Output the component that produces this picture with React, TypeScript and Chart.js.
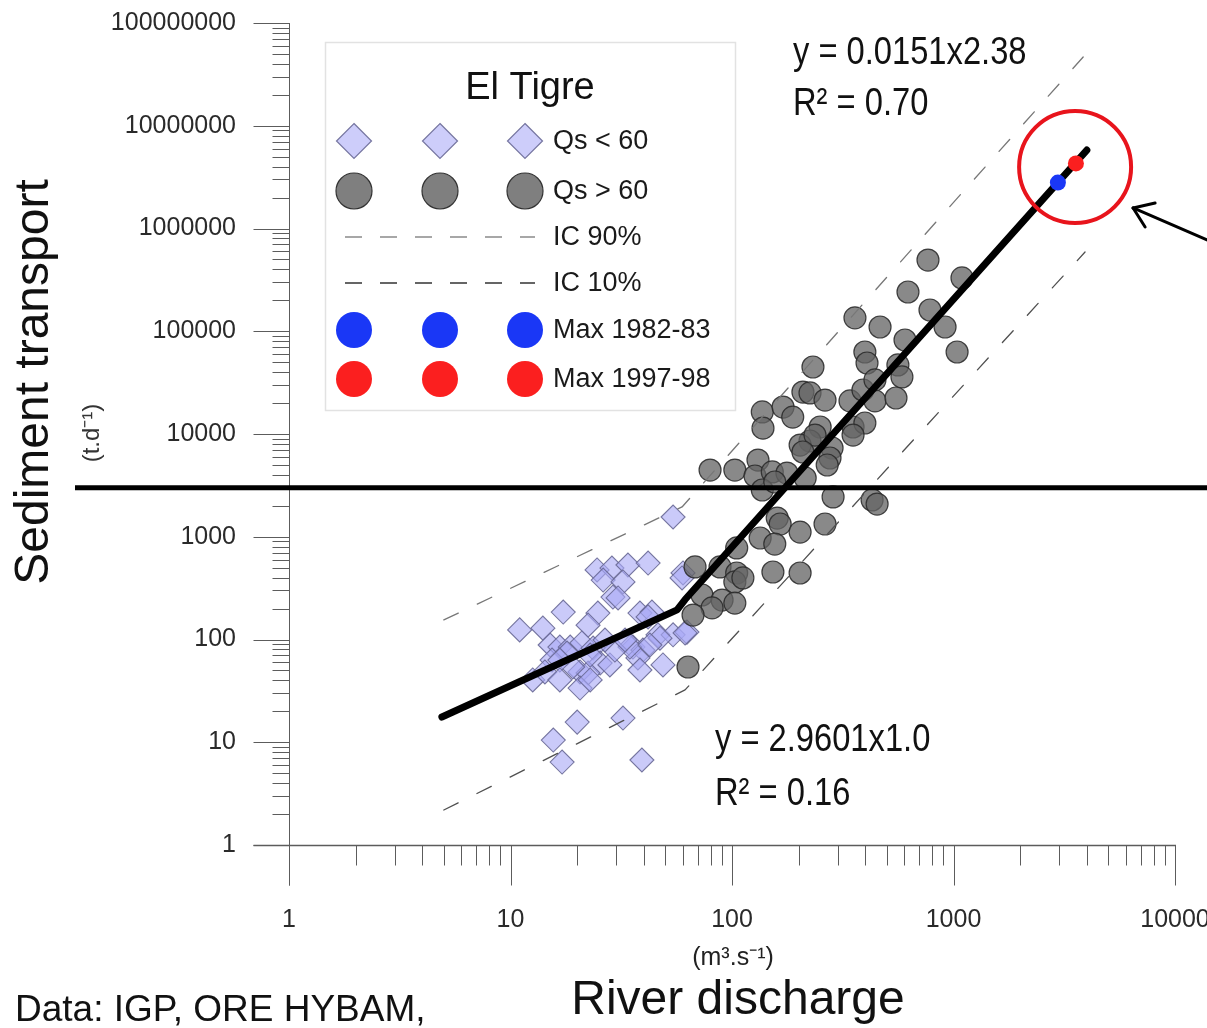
import React, { useEffect, useRef } from 'react';
import { Chart, registerables } from 'chart.js';

Chart.register(...registerables);

const FONT = '"Liberation Sans", Arial, Helvetica, sans-serif';

// ---- axes ----
const xTickValues = [1, 10, 100, 1000, 10000];
const xTickLabels = ['1', '10', '100', '1000', '10000'];
const yTickValues = [1, 10, 100, 1000, 10000, 100000, 1000000, 10000000, 100000000];
const yTickLabels = ['1', '10', '100', '1000', '10000', '100000', '1000000', '10000000', '100000000'];
const minorMultipliers = [2, 3, 4, 5, 6, 7, 8, 9];

// ---- Qs < 60 (diamonds): discharge (m3/s), sediment (t/d) ----
const qsLowDischarge = [
  54.2, 24.6, 28.7, 33.9, 41.8, 26.2, 32.2, 29.0, 30.6, 60.1, 59.5, 11.0, 14.0, 17.3, 24.8,
  22.4, 38.4, 43.5, 41.8, 46.3, 54.2, 62.6, 15.1, 16.7, 18.6, 21.0, 23.6, 35.7, 39.6, 25.4,
  28.1, 37.6, 48.8, 20.6, 22.4, 12.6, 20.6, 20.0, 15.6, 17.1, 32.2, 39.2, 18.0, 19.1, 34.6,
  38.4, 47.3, 61.4, 15.4, 14.3, 16.7, 22.9, 29.6, 32.9, 26.7, 42.6, 22.9, 16.7,
];
const qsLowSediment = [
  1557, 475, 496, 531, 555, 379, 363, 259, 254, 444, 397, 124, 129, 185, 181,
  138, 181, 185, 166, 111, 111, 118, 88.4, 84.5, 84.5, 92.5, 82.6, 84.5, 79.0, 59.0,
  56.5, 66.1, 56.5, 48.3, 47.2, 40.4, 33.7, 15.7, 10.5, 6.42, 17.2, 6.72, 73.9, 54.0, 84.5,
  50.5, 103, 116, 63.1, 48.3, 63.1, 70.6, 79.0, 98.9, 98.9, 88.4, 40.4, 40.4,
];

// ---- Qs > 60 (circles) ----
const qsHighDischarge = [
  767, 1092, 623, 359, 466, 783, 916, 1038, 604, 398, 407, 232, 561, 585, 209,
  225, 263, 341, 390, 442, 550, 137, 170, 188, 138, 250, 352, 398, 352, 225,
  283, 277, 269, 79.6, 103, 131, 127, 152, 177, 214, 137, 286, 429, 452, 160,
  165, 203, 263, 134, 156, 105, 68.1, 88.3, 105, 103, 112, 153, 203, 73.2, 90.2,
  103, 81.3, 66.7, 63.3, 442, 203, 237, 209, 156,
];
const qsHighSediment = [
  493000, 330000, 241000, 135000, 110000, 161000, 110000, 62800, 82200, 62800, 49100, 44900, 47000, 35900, 25600,
  25100, 21400, 21000, 26800, 21000, 22400, 16400, 18300, 14600, 11400, 11700, 11700, 12800, 9770, 8550,
  7310, 5840, 4990, 4460, 4460, 5580, 3900, 4270, 4170, 3730, 2850, 2440, 2280, 2080, 1520,
  1330, 1110, 1330, 972, 849, 778, 508, 508, 444, 363, 397, 454, 444, 271, 242,
  226, 203, 173, 54.0, 33600, 7810, 9770, 6680, 3410,
];

// ---- fitted relations and confidence bounds ----
const fitDischarge = [4.9, 56.5, 61.4, 4000];
const fitSediment = [17.6, 194, 245, 5800000];
const ic90Discharge = [5, 59.5, 3850];
const ic90Sediment = [155, 1950, 46700000];
const ic10Discharge = [5, 61.4, 3925];
const ic10Sediment = [2.19, 32.3, 590000];

// ---- maxima ----
const max8283Discharge = [2960];
const max8283Sediment = [2800000];
const max9798Discharge = [3570];
const max9798Sediment = [4300000];

const thresholdSediment = 3000;
const highlightDischarge = 3540;
const highlightSediment = 3970000;

// ---- texts ----
const legendTitle = 'El Tigre';
const legendLabels = ['Qs < 60', 'Qs > 60', 'IC 90%', 'IC 10%', 'Max 1982-83', 'Max 1997-98'];
const equationHigh = ['y = 0.0151x2.38', 'R² = 0.70'];
const equationLow = ['y = 2.9601x1.0', 'R² = 0.16'];
const xTitle = 'River discharge';
const xUnit = '(m³.s⁻¹)';
const yTitle = 'Sediment transport';
const yUnit = '(t.d⁻¹)';
const sourceNote = 'Data: IGP, ORE HYBAM,';

// ---- colours ----
const diamondFill = 'rgba(170,170,245,0.62)';
const diamondBorder = 'rgba(105,105,150,0.9)';
const circleFill = 'rgba(100,100,100,0.76)';
const circleBorder = 'rgba(40,40,40,0.85)';
const blueMax = '#1a37f6';
const redMax = '#fb1f1f';
const ic90Color = '#777777';
const ic10Color = '#505050';

const zip = (xs: number[], ys: number[]) => xs.map((x, i) => ({ x, y: ys[i] }));

function drawText(
  ctx: CanvasRenderingContext2D,
  text: string,
  x: number,
  y: number,
  size: number,
  opts: { align?: CanvasTextAlign; baseline?: CanvasTextBaseline; color?: string; sx?: number; rotate?: number } = {}
) {
  const { align = 'left', baseline = 'alphabetic', color = '#111', sx = 1, rotate = 0 } = opts;
  ctx.save();
  ctx.translate(x, y);
  if (rotate) ctx.rotate(rotate);
  ctx.scale(sx, 1);
  ctx.font = `${size}px ${FONT}`;
  ctx.fillStyle = color;
  ctx.textAlign = align;
  ctx.textBaseline = baseline;
  ctx.fillText(text, 0, 0);
  ctx.restore();
}

function seg(ctx: CanvasRenderingContext2D, x1: number, y1: number, x2: number, y2: number) {
  ctx.beginPath();
  ctx.moveTo(x1, y1);
  ctx.lineTo(x2, y2);
  ctx.stroke();
}

function diamond(ctx: CanvasRenderingContext2D, cx: number, cy: number, r: number) {
  ctx.beginPath();
  ctx.moveTo(cx, cy - r);
  ctx.lineTo(cx + r, cy);
  ctx.lineTo(cx, cy + r);
  ctx.lineTo(cx - r, cy);
  ctx.closePath();
  ctx.fill();
  ctx.stroke();
}

function disc(ctx: CanvasRenderingContext2D, cx: number, cy: number, r: number, stroke: boolean) {
  ctx.beginPath();
  ctx.arc(cx, cy, r, 0, Math.PI * 2);
  ctx.fill();
  if (stroke) ctx.stroke();
}

const decorPlugin = {
  id: 'decor',
  beforeDatasetsDraw(chart: any) {
    const { ctx } = chart;
    const xs = chart.scales.x;
    const ys = chart.scales.y;
    const x0 = Math.round(xs.getPixelForValue(xTickValues[0])) + 0.5;
    const xr = xs.getPixelForValue(xTickValues[xTickValues.length - 1]);
    const yb = Math.round(ys.getPixelForValue(yTickValues[0])) + 0.5;
    const yt = ys.getPixelForValue(yTickValues[yTickValues.length - 1]);
    ctx.save();
    ctx.strokeStyle = '#5c5c5c';
    ctx.lineWidth = 1;
    seg(ctx, x0, yt, x0, yb + 40);
    ctx.lineWidth = 1.6;
    seg(ctx, x0 - 36, yb, xr + 1, yb);
    ctx.lineWidth = 1;
    yTickValues.forEach((v, i) => {
      const p = Math.round(ys.getPixelForValue(v)) + 0.5;
      seg(ctx, x0 - 36, p, x0, p);
      if (i < yTickValues.length - 1) {
        minorMultipliers.forEach((m) => {
          const q = Math.round(ys.getPixelForValue(v * m)) + 0.5;
          seg(ctx, x0 - 17, q, x0, q);
        });
      }
    });
    xTickValues.forEach((v, i) => {
      const p = Math.round(xs.getPixelForValue(v)) + 0.5;
      seg(ctx, p, yb, p, yb + 40);
      if (i < xTickValues.length - 1) {
        minorMultipliers.forEach((m) => {
          const q = Math.round(xs.getPixelForValue(v * m)) + 0.5;
          seg(ctx, q, yb, q, yb + 20);
        });
      }
    });
    ctx.restore();
  },
  afterDatasetsDraw(chart: any) {
    const { ctx, width } = chart;
    const xs = chart.scales.x;
    const ys = chart.scales.y;
    ctx.save();
    // threshold line
    const ty = ys.getPixelForValue(thresholdSediment);
    ctx.strokeStyle = '#000';
    ctx.lineWidth = 5;
    seg(ctx, 75, ty, width, ty);

    // highlight circle + arrow
    const hx = xs.getPixelForValue(highlightDischarge);
    const hy = ys.getPixelForValue(highlightSediment);
    ctx.strokeStyle = '#e8141c';
    ctx.lineWidth = 4;
    ctx.beginPath();
    ctx.arc(hx, hy, 56, 0, Math.PI * 2);
    ctx.stroke();
    const tipX = hx + 58;
    const tipY = hy + 41;
    ctx.strokeStyle = '#000';
    ctx.lineWidth = 3;
    ctx.lineCap = 'round';
    seg(ctx, tipX, tipY, width + 5, tipY + 34);
    seg(ctx, tipX, tipY, tipX + 22, tipY - 5);
    seg(ctx, tipX, tipY, tipX + 12, tipY + 19);
    ctx.restore();
  },
  afterDraw(chart: any) {
    const { ctx } = chart;
    ctx.save();
    // equations
    const sx = 0.86;
    drawText(ctx, equationHigh[0], 793, 64, 38, { sx });
    drawText(ctx, equationHigh[1], 793, 115, 38, { sx });
    drawText(ctx, equationLow[0], 715, 751, 38, { sx });
    drawText(ctx, equationLow[1], 715, 805, 38, { sx });

    // legend box
    ctx.fillStyle = '#fff';
    ctx.fillRect(325, 42, 410, 368);
    ctx.strokeStyle = '#e2e2e2';
    ctx.lineWidth = 1.5;
    ctx.strokeRect(325.5, 42.5, 410, 368);
    drawText(ctx, legendTitle, 530, 89, 38, { align: 'center', baseline: 'middle', color: '#111' });
    const rows = [141, 191, 237, 283, 330, 379];
    const symX = [354, 440, 525];
    symX.forEach((sxp) => {
      ctx.fillStyle = 'rgba(205,205,250,1)';
      ctx.strokeStyle = diamondBorder;
      ctx.lineWidth = 1.2;
      diamond(ctx, sxp, rows[0], 17.5);
      ctx.fillStyle = '#7f7f7f';
      ctx.strokeStyle = '#333';
      disc(ctx, sxp, rows[1], 18, true);
      ctx.fillStyle = blueMax;
      disc(ctx, sxp, rows[4], 18, false);
      ctx.fillStyle = redMax;
      disc(ctx, sxp, rows[5], 18, false);
    });
    ctx.lineWidth = 1.5;
    ctx.setLineDash([17, 18]);
    ctx.strokeStyle = '#8a8a8a';
    seg(ctx, 345, rows[2], 535, rows[2]);
    ctx.strokeStyle = '#333';
    seg(ctx, 345, rows[3], 535, rows[3]);
    ctx.setLineDash([]);
    legendLabels.forEach((t, i) => {
      drawText(ctx, t, 553, rows[i] + 1, 27, { baseline: 'middle', color: '#1a1a1a' });
    });

    // axis titles
    drawText(ctx, yTitle, 35, 382, 48, { align: 'center', baseline: 'middle', rotate: -Math.PI / 2, color: '#111' });
    drawText(ctx, yUnit, 92, 433, 24, { align: 'center', baseline: 'middle', rotate: -Math.PI / 2, color: '#333' });
    drawText(ctx, xUnit, 733, 958, 25, { align: 'center', baseline: 'middle', color: '#222' });
    drawText(ctx, xTitle, 738, 1001, 48, { align: 'center', baseline: 'middle', color: '#111' });
    drawText(ctx, sourceNote, 15, 1011, 37, { baseline: 'middle', color: '#111' });
    ctx.restore();
  },
};

export default function App() {
  const canvasRef = useRef<HTMLCanvasElement | null>(null);

  useEffect(() => {
    const canvas = canvasRef.current;
    if (!canvas) return;
    const lineDs = (label: string, xs: number[], ys: number[], color: string, width: number, dash: number[], order: number) => ({
      label,
      data: zip(xs, ys),
      showLine: true,
      borderColor: color,
      borderWidth: width,
      borderDash: dash,
      borderCapStyle: 'round' as const,
      borderJoinStyle: 'round' as const,
      pointRadius: 0,
      pointHoverRadius: 0,
      fill: false,
      tension: 0,
      order,
    });
    const chart = new Chart(canvas, {
      type: 'scatter',
      data: {
        datasets: [
          {
            label: 'Max 1997-98',
            data: zip(max9798Discharge, max9798Sediment),
            pointStyle: 'circle',
            pointRadius: 8,
            backgroundColor: redMax,
            borderColor: redMax,
            borderWidth: 0,
            order: 0,
          },
          {
            label: 'Max 1982-83',
            data: zip(max8283Discharge, max8283Sediment),
            pointStyle: 'circle',
            pointRadius: 8,
            backgroundColor: blueMax,
            borderColor: blueMax,
            borderWidth: 0,
            order: 0,
          },
          lineDs('fit', fitDischarge, fitSediment, '#000', 7, [], 1),
          lineDs('IC 90%', ic90Discharge, ic90Sediment, ic90Color, 1.3, [16, 21], 2),
          lineDs('IC 10%', ic10Discharge, ic10Sediment, ic10Color, 1.3, [16, 21], 2),
          {
            label: 'Qs > 60',
            data: zip(qsHighDischarge, qsHighSediment),
            pointStyle: 'circle',
            pointRadius: 11,
            backgroundColor: circleFill,
            borderColor: circleBorder,
            borderWidth: 1.2,
            order: 3,
          },
          {
            label: 'Qs < 60',
            data: zip(qsLowDischarge, qsLowSediment),
            pointStyle: 'rectRot',
            pointRadius: 12,
            backgroundColor: diamondFill,
            borderColor: diamondBorder,
            borderWidth: 1.1,
            order: 4,
          },
        ] as any,
      },
      options: {
        responsive: false,
        animation: false,
        events: [],
        layout: { padding: { left: 0, right: 32, top: 23, bottom: 0 } },
        plugins: { legend: { display: false }, tooltip: { enabled: false } },
        scales: {
          x: {
            type: 'logarithmic',
            position: 'bottom',
            min: xTickValues[0],
            max: xTickValues[xTickValues.length - 1],
            grid: { display: false, drawTicks: false },
            border: { display: false },
            ticks: {
              autoSkip: false,
              maxRotation: 0,
              minRotation: 0,
              padding: 60,
              color: '#2a2a2a',
              font: { size: 25, family: FONT },
              callback: (_v: any, i: number) => xTickLabels[i],
            },
            afterBuildTicks: (s: any) => {
              s.ticks = xTickValues.map((v) => ({ value: v }));
            },
            afterFit: (s: any) => {
              s.height = 183;
              s.paddingLeft = 0;
              s.paddingRight = 0;
            },
          },
          y: {
            type: 'logarithmic',
            position: 'left',
            min: yTickValues[0],
            max: yTickValues[yTickValues.length - 1],
            grid: { display: false, drawTicks: false },
            border: { display: false },
            ticks: {
              autoSkip: false,
              padding: 53,
              color: '#2a2a2a',
              font: { size: 25, family: FONT },
              callback: (_v: any, i: number) => yTickLabels[i],
            },
            afterBuildTicks: (s: any) => {
              s.ticks = yTickValues.map((v) => ({ value: v }));
            },
            afterFit: (s: any) => {
              s.width = 289;
              s.paddingTop = 0;
              s.paddingBottom = 0;
            },
          },
        } as any,
      },
      plugins: [decorPlugin],
    });
    return () => chart.destroy();
  }, []);

  return (
    <div style={{ position: 'absolute', left: 0, top: 0, width: 1207, height: 1028, background: '#fff' }}>
      <canvas ref={canvasRef} width={1207} height={1028} style={{ display: 'block', width: 1207, height: 1028 }} />
    </div>
  );
}
